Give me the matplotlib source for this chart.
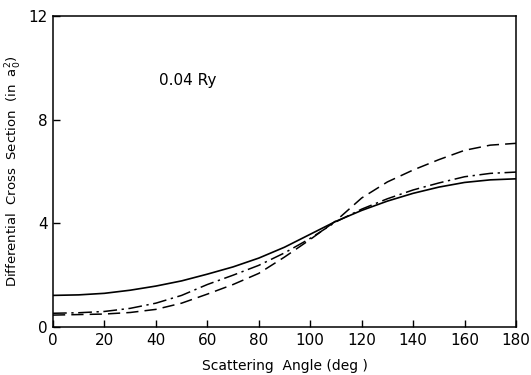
import matplotlib
matplotlib.use("Agg")
import matplotlib.pyplot as plt

# scattering angle (deg)
angle = [0, 10, 20, 30, 40, 50, 60, 70, 80, 90, 100, 110, 120, 130, 140, 150, 160, 170, 180]

# differential cross sections (a0^2)
solid = [1.22, 1.24, 1.30, 1.42, 1.58, 1.78, 2.04, 2.32, 2.66, 3.08, 3.58, 4.08, 4.50, 4.86, 5.16, 5.40, 5.58, 5.68, 5.72]
dashdot = [0.53, 0.55, 0.60, 0.72, 0.92, 1.22, 1.64, 2.00, 2.38, 2.86, 3.42, 4.06, 4.55, 4.95, 5.29, 5.56, 5.80, 5.93, 5.98]
dashed = [0.46, 0.48, 0.50, 0.56, 0.68, 0.92, 1.27, 1.64, 2.07, 2.70, 3.38, 4.10, 4.98, 5.60, 6.06, 6.46, 6.82, 7.02, 7.09]

xticks = list(range(0, 181, 20))
yticks = [0, 4, 8, 12]

plt.rcParams["font.family"] = "DejaVu Sans"

fig = plt.figure(figsize=(5.31, 3.75), dpi=100)
ax = fig.add_axes([0.0998, 0.128, 0.872, 0.829])

ax.plot(angle, solid, color="black", linewidth=1.2, linestyle="-")
ax.plot(angle, dashdot, color="black", linewidth=1.1, linestyle=(0, (9, 3, 1.5, 3)))
ax.plot(angle, dashed, color="black", linewidth=1.1, linestyle=(0, (8, 4)))

ax.set_xlim(0, 180)
ax.set_ylim(0, 12)
ax.set_xticks(xticks)
ax.set_yticks(yticks)
ax.tick_params(direction="in", length=5, width=1, labelsize=11, pad=4)
for sp in ax.spines.values():
    sp.set_linewidth(1.1)

ax.set_xlabel("Scattering  Angle (deg )", fontsize=10, labelpad=8)
ax.set_ylabel(r"Differential  Cross  Section  (in  a$_0^2$)", fontsize=9.5, labelpad=3)
ax.text(0.23, 0.78, "0.04 Ry", transform=ax.transAxes, fontsize=11)

fig.savefig("out.png", dpi=100)
